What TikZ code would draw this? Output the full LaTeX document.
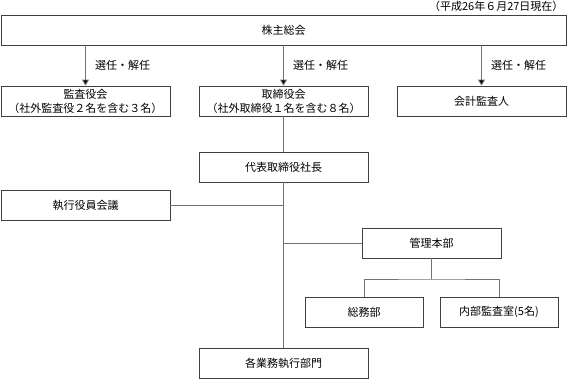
\documentclass[tikz,border=0pt]{standalone}
\usepackage{fontspec}
\newfontfamily\jpfont{Noto Sans CJK JP}
\usetikzlibrary{arrows.meta}
\begin{document}
\begin{tikzpicture}[x=1pt,y=-1pt,font=\jpfont\fontsize{11}{14}\selectfont,
  box/.style={draw=black!75,line width=0.8pt,minimum height=30pt,inner sep=0pt,align=center},
  link/.style={draw=black!55,line width=0.8pt},
  arr/.style={link,-{Triangle[length=6pt,width=7pt,fill=black]}}]
  \useasboundingbox (0,0) rectangle (568,380);
  \node[anchor=east] (date) at (567,6) {（平成26年６月27日現在）};
  \node[box,minimum width=565pt] (kabu) at (283.5,30) {株主総会};
  \node[box,minimum width=169pt] (kansa) at (85.5,101) {監査役会\\（社外監査役２名を含む３名）};
  \node[box,minimum width=169pt] (torishimari) at (283.5,101) {取締役会\\（社外取締役１名を含む８名）};
  \node[box,minimum width=169pt] (kaikei) at (481.5,101) {会計監査人};
  \node[box,minimum width=169pt] (daihyo) at (283.5,167) {代表取締役社長};
  \node[box,minimum width=169pt] (shikko) at (85.5,205) {執行役員会議};
  \node[box,minimum width=139pt] (kanri) at (431.5,243) {管理本部};
  \node[box,minimum width=118pt] (somu) at (364,312) {総務部};
  \node[box,minimum width=118pt] (naibu) at (499,312) {内部監査室(5名)};
  \node[box,minimum width=169pt] (gyomu) at (283.5,363) {各業務執行部門};
  \coordinate (fork) at (431.5,279);
  % 選任・解任
  \draw[arr] (kabu.south -| kansa.north) -- (kansa.north) node[midway,right,xshift=6pt]{選任・解任};
  \draw[arr] (kabu.south -| torishimari.north) -- (torishimari.north) node[midway,right,xshift=6pt]{選任・解任};
  \draw[arr] (kabu.south -| kaikei.north) -- (kaikei.north) node[midway,right,xshift=6pt]{選任・解任};
  \draw[link] (torishimari.south) -- (daihyo.north);
  \draw[link] (daihyo.south) -- (gyomu.north);
  \draw[link] (shikko.east) -- (shikko.east -| daihyo.south);
  \draw[link] (kanri.west) -- (kanri.west -| daihyo.south);
  \draw[link] (kanri.south) -- (fork);
  \draw[link] (somu.north) |- (fork) -| (naibu.north);
\end{tikzpicture}
\end{document}
